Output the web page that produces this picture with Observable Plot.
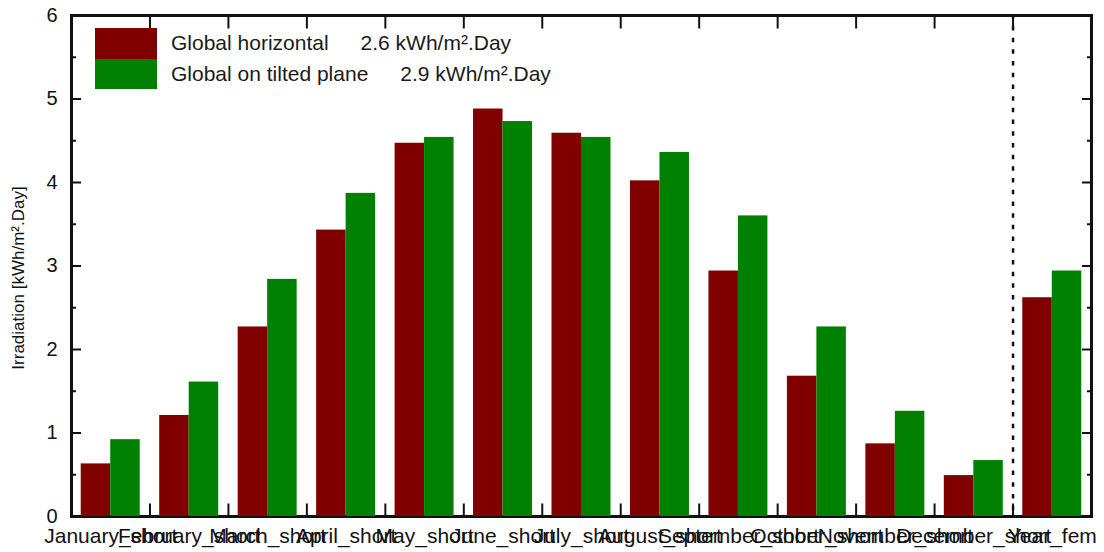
<!DOCTYPE html>
<html>
<head>
<meta charset="utf-8">
<script src="https://cdn.jsdelivr.net/npm/d3@7"></script>
<script src="https://cdn.jsdelivr.net/npm/@observablehq/plot@0.6"></script>
<style>
  html, body { margin: 0; padding: 0; background: #fff; }
  #chart { position: relative; width: 1104px; height: 552px; font-family: "Liberation Sans", Arial, sans-serif; }
  #legend { position: absolute; left: 95px; top: 28px; }
  .lrow { display: flex; align-items: center; height: 30.5px; }
  .sw { width: 62px; height: 30.5px; }
  .lt { margin-left: 14px; font-size: 21px; color: #1a1a1a; white-space: pre; }
  .lv { margin-left: 32px; }
</style>
</head>
<body>
<div id="chart"><div id="legend"></div></div>
<script>
// ---- data ----
const categories = ["January_short", "February_short", "March_short", "April_short", "May_short", "June_short",
  "July_short", "August_short", "September_short", "October_short", "November_short", "December_short", "Year_fem"];
const globalHorizontal = [0.63, 1.21, 2.27, 3.43, 4.47, 4.88, 4.59, 4.02, 2.94, 1.68, 0.87, 0.49, 2.62];
const globalTilted     = [0.92, 1.61, 2.84, 3.87, 4.54, 4.73, 4.54, 4.36, 3.60, 2.27, 1.26, 0.67, 2.94];
const seriesNames = ["Global horizontal", "Global on tilted plane"];
const seriesColors = ["#800000", "#008000"];
const yMajorTicks = [0, 1, 2, 3, 4, 5, 6];
const yMinorTicks = [0.5, 1.5, 2.5, 3.5, 4.5, 5.5];
const yLabel = "Irradiation [kWh/m².Day]";
const unitLabel = "kWh/m².Day";

const seriesValues = [globalHorizontal, globalTilted];
const rows = [];
categories.forEach((c, i) => seriesNames.forEach((s, j) => rows.push({category: c, series: s, value: seriesValues[j][i]})));
const yearCategory = categories[categories.length - 1];

const ink = "#111";
const chart = Plot.plot({
  width: 1104,
  height: 552,
  marginLeft: 71,
  marginRight: 13,
  marginTop: 15,
  marginBottom: 36,
  style: {fontFamily: "'Liberation Sans', Arial, sans-serif", fontSize: "20px", color: ink, background: "#fff"},
  fx: {domain: categories, padding: 0, round: false, axis: null, label: null},
  x: {domain: seriesNames, paddingInner: 0, paddingOuter: 0.33, round: false, axis: null},
  y: {domain: [0, 6], axis: null},
  color: {domain: seriesNames, range: seriesColors},
  marks: [
    Plot.frame({anchor: "top", strokeWidth: 3, stroke: ink}),
    Plot.frame({anchor: "bottom", strokeWidth: 3, stroke: ink}),
    Plot.frame({anchor: "left", facetAnchor: "left", strokeWidth: 3, stroke: ink}),
    Plot.frame({anchor: "right", facetAnchor: "right", strokeWidth: 3, stroke: ink}),
    Plot.frame({anchor: "left", insetTop: 489, strokeWidth: 2, stroke: ink}),
    Plot.frame({anchor: "left", insetBottom: 489, strokeWidth: 2, stroke: ink}),
    Plot.frame({anchor: "left", fx: () => yearCategory, strokeWidth: 2.5, stroke: ink, strokeDasharray: "2,9.7"}),
    Plot.axisY({ticks: yMajorTicks, tickSize: -10, text: null, label: null, strokeWidth: 2, stroke: ink}),
    Plot.axisY({ticks: yMinorTicks, tickSize: -5, text: null, label: null, strokeWidth: 2, stroke: ink}),
    Plot.axisY({anchor: "right", ticks: yMajorTicks, tickSize: -10, text: null, label: null, strokeWidth: 2, stroke: ink}),
    Plot.axisY({anchor: "right", ticks: yMinorTicks, tickSize: -5, text: null, label: null, strokeWidth: 2, stroke: ink}),
    Plot.axisY({ticks: yMajorTicks, tickSize: 0, tickPadding: 14, label: null, fontSize: 20, tickFormat: d3.format("d")}),
    Plot.text([yLabel], {text: d => d, frameAnchor: "left", facetAnchor: "left", textAnchor: "middle", rotate: -90, dx: -53, dy: 12, fontSize: 17, fill: ink}),
    Plot.barY(rows, {fx: "category", x: "series", y: "value", fill: "series"}),
    Plot.axisFx({anchor: "bottom", tickSize: 0, tickPadding: 12, fontSize: 21, label: null})
  ]
});
document.getElementById("chart").prepend(chart);

// legend (inside plot area, top-left)
const fmt = d3.format(".1f");
const legend = d3.select("#legend");
seriesNames.forEach((s, j) => {
  const row = legend.append("div").attr("class", "lrow");
  row.append("div").attr("class", "sw").style("background", seriesColors[j]);
  const t = row.append("div").attr("class", "lt");
  t.append("span").text(s);
  t.append("span").attr("class", "lv").text(`${fmt(seriesValues[j][categories.length - 1])} ${unitLabel}`);
});
</script>
</body>
</html>
